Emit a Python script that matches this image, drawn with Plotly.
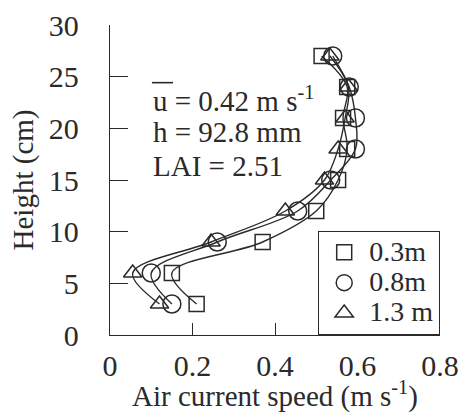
import plotly.graph_objects as go

heights = [3, 6, 9, 12, 15, 18, 21, 24, 27]
speed_03 = [0.21, 0.15, 0.37, 0.50, 0.553, 0.575, 0.565, 0.575, 0.513]
speed_08 = [0.15, 0.10, 0.26, 0.455, 0.535, 0.595, 0.595, 0.58, 0.54]
speed_13 = [0.12, 0.055, 0.245, 0.425, 0.52, 0.553, 0.57, 0.578, 0.533]
series_names = ["0.3m", "0.8m", "1.3 m"]
symbols = ["square-open", "circle-open", "triangle-up-open"]
marker_sizes = [15, 18, 16]

x_ticks = [0, 0.2, 0.4, 0.6, 0.8]
y_ticks = [0, 5, 10, 15, 20, 25, 30]

INK = "#2a2a2a"
FONT = "Liberation Serif"

fig = go.Figure()
for vals, sym, ms, name in zip([speed_03, speed_08, speed_13], symbols, marker_sizes, series_names):
    fig.add_trace(go.Scatter(
        x=vals, y=heights, mode="lines+markers",
        line=dict(color=INK, width=1.4, shape="spline", smoothing=1.0),
        marker=dict(symbol=sym, size=ms, color=INK, line=dict(width=1.5, color=INK)),
        showlegend=False, name=name, hoverinfo="skip",
    ))
    fig.add_trace(go.Scatter(
        x=[None], y=[None], mode="markers",
        name='<span style="font-size:28px">' + name + '</span>',
        marker=dict(symbol=sym, size=ms, color=INK, line=dict(width=1.5, color=INK)),
        showlegend=True,
    ))

ann_font = dict(family=FONT, size=29, color=INK)
fig.add_annotation(xref="paper", yref="paper", x=0.125, y=0.762, xanchor="left", yanchor="middle",
                   text="u = 0.42 m s<sup>-1</sup>", showarrow=False, font=ann_font)
fig.add_annotation(xref="paper", yref="paper", x=0.125, y=0.655, xanchor="left", yanchor="middle",
                   text="h = 92.8 mm", showarrow=False, font=ann_font)
fig.add_annotation(xref="paper", yref="paper", x=0.125, y=0.545, xanchor="left", yanchor="middle",
                   text="LAI = 2.51", showarrow=False, font=ann_font)
# overbar on u
fig.add_shape(type="line", xref="paper", yref="paper", x0=0.127, x1=0.191, y0=0.814, y1=0.814,
              line=dict(color=INK, width=1.6))

fig.update_layout(
    width=459, height=413,
    margin=dict(l=110, r=19, t=25, b=78, autoexpand=False),
    paper_bgcolor="white", plot_bgcolor="white",
    font=dict(family=FONT, size=30, color=INK),
    legend=dict(x=1, y=0, xanchor="right", yanchor="bottom",
                bordercolor=INK, borderwidth=1.2, bgcolor="white",
                font=dict(family=FONT, size=21, color=INK),
                tracegroupgap=0, itemwidth=40),
)
fig.update_xaxes(range=[0, 0.8], tickvals=x_ticks, ticks="inside", ticklen=12, tickwidth=1.2,
                 tickcolor=INK, showline=True, linecolor=INK, linewidth=1.4, showgrid=False,
                 zeroline=False, ticklabelstandoff=4, automargin=False,
                 tickfont=dict(family=FONT, size=30, color=INK),
                 title=dict(text="Air current speed (m s<sup>-1</sup>)", standoff=14,
                            font=dict(family=FONT, size=29, color=INK)))
fig.update_yaxes(range=[0, 30], tickvals=y_ticks, ticks="inside", ticklen=18, tickwidth=1.2,
                 tickcolor=INK, showline=True, linecolor=INK, linewidth=1.4, showgrid=False,
                 zeroline=False, ticklabelstandoff=24, automargin=False,
                 tickfont=dict(family=FONT, size=30, color=INK),
                 title=dict(text="Height (cm)", standoff=6,
                            font=dict(family=FONT, size=29, color=INK)))

fig.write_html("out.html")
